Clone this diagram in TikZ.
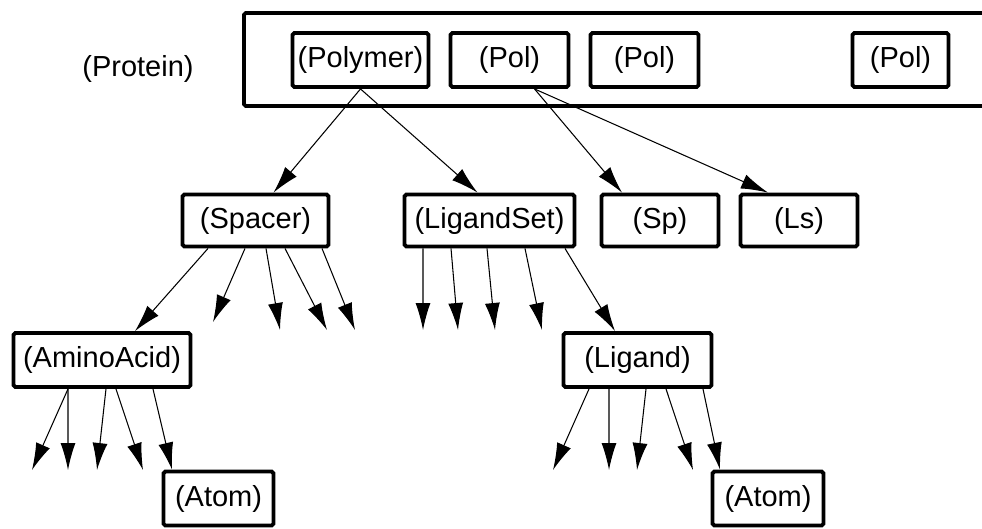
\documentclass[tikz,border=0pt]{standalone}
\usepackage{fontspec}
\setmainfont{Liberation Sans}
\usetikzlibrary{arrows.meta, positioning}

\tikzset{
  box/.style={draw, line width=2.2pt, rounded corners=1pt, minimum height=1.08cm,
    inner sep=0pt, font=\fontsize{16.5}{19}\selectfont},
  lbl/.style={font=\fontsize{16.5}{19}\selectfont}
}

\begin{document}
\begin{tikzpicture}[x=0.02cm, y=-0.02cm, >={Latex[length=5.4mm,width=3mm]}, line width=0.6pt]
            \clip (0,0) rectangle (982,528);
            % protein container, runs off to the right
            \draw[line width=2.2pt, rounded corners=1pt] (244,13) rectangle (1010,106);
            \node[lbl] (protein) at (138,69) {(Protein)};

            \node[box, minimum width=2.72cm] (polymer) at (360.5,60) {(Polymer)};
            \node[box, minimum width=2.36cm] (pol1) at (509.5,60) {(Pol)};
            \node[box, minimum width=2.16cm] (pol2) at (644.5,60) {(Pol)};
            \node[box, minimum width=1.92cm] (pol3) at (900.5,60) {(Pol)};

            \node[box, minimum width=2.92cm, minimum height=1.04cm] (spacer) at (255.5,220.5) {(Spacer)};
            \node[box, minimum width=3.4cm, minimum height=1.04cm] (ligset) at (489.5,220.5) {(LigandSet)};
            \node[box, minimum width=2.34cm, minimum height=1.04cm] (sp) at (660,220.5) {(Sp)};
            \node[box, minimum width=2.34cm, minimum height=1.04cm] (ls) at (799,220.5) {(Ls)};

            \node[box, minimum width=3.54cm] (amino) at (102,360) {(AminoAcid)};
            \node[box, minimum width=2.96cm] (ligand) at (637.5,360) {(Ligand)};

            \node[box, minimum width=2.2cm] (atom1) at (218.5,498.5) {(Atom)};
            \node[box, minimum width=2.22cm] (atom2) at (768,498.5) {(Atom)};

            % loose arrow ends
            \coordinate (s1) at (213,322);
            \coordinate (s2) at (280,330);
            \coordinate (s3) at (327,330);
            \coordinate (s4) at (355,330);
            \coordinate (l1) at (423,330);
            \coordinate (l2) at (458,330);
            \coordinate (l3) at (495,330);
            \coordinate (l4) at (542,330);
            \coordinate (a1) at (32,470);
            \coordinate (a2) at (68,470);
            \coordinate (a3) at (97,470);
            \coordinate (a4) at (143,470);
            \coordinate (g1) at (553,470);
            \coordinate (g2) at (609,470);
            \coordinate (g3) at (637,470);
            \coordinate (g4) at (693,470);

            \draw[->] (polymer.south) -- ([xshift=0.36cm]spacer.north);
            \draw[->] (polymer.south) -- ([xshift=-0.24cm]ligset.north);
            \draw[->] ([xshift=0.5cm]pol1.south) -- ([xshift=-0.76cm]sp.north);
            \draw[->] ([xshift=0.5cm]pol1.south) -- ([xshift=-0.62cm]ls.north);

            \draw[->] ([xshift=-0.95cm]spacer.south) -- ([xshift=0.66cm]amino.north);
            \draw[->] ([xshift=-0.21cm]spacer.south) -- (s1);
            \draw[->] ([xshift=0.21cm]spacer.south) -- (s2);
            \draw[->] ([xshift=0.59cm]spacer.south) -- (s3);
            \draw[->] ([xshift=1.33cm]spacer.south) -- (s4);

            \draw[->] ([xshift=-1.33cm]ligset.south) -- (l1);
            \draw[->] ([xshift=-0.77cm]ligset.south) -- (l2);
            \draw[->] ([xshift=-0.05cm]ligset.south) -- (l3);
            \draw[->] ([xshift=0.71cm]ligset.south) -- (l4);
            \draw[->] ([xshift=1.51cm]ligset.south) -- ([xshift=-0.45cm]ligand.north);

            \draw[->] ([xshift=-0.68cm]amino.south) -- (a1);
            \draw[->] ([xshift=-0.68cm]amino.south) -- (a2);
            \draw[->] ([xshift=0.08cm]amino.south) -- (a3);
            \draw[->] ([xshift=0.28cm]amino.south) -- (a4);
            \draw[->] ([xshift=1.02cm]amino.south) -- ([xshift=-0.93cm]atom1.north);

            \draw[->] ([xshift=-0.97cm]ligand.south) -- (g1);
            \draw[->] ([xshift=-0.57cm]ligand.south) -- (g2);
            \draw[->] ([xshift=0.17cm]ligand.south) -- (g3);
            \draw[->] ([xshift=0.57cm]ligand.south) -- (g4);
            \draw[->] ([xshift=1.31cm]ligand.south) -- ([xshift=-0.96cm]atom2.north);
        \end{tikzpicture}
\end{document}
